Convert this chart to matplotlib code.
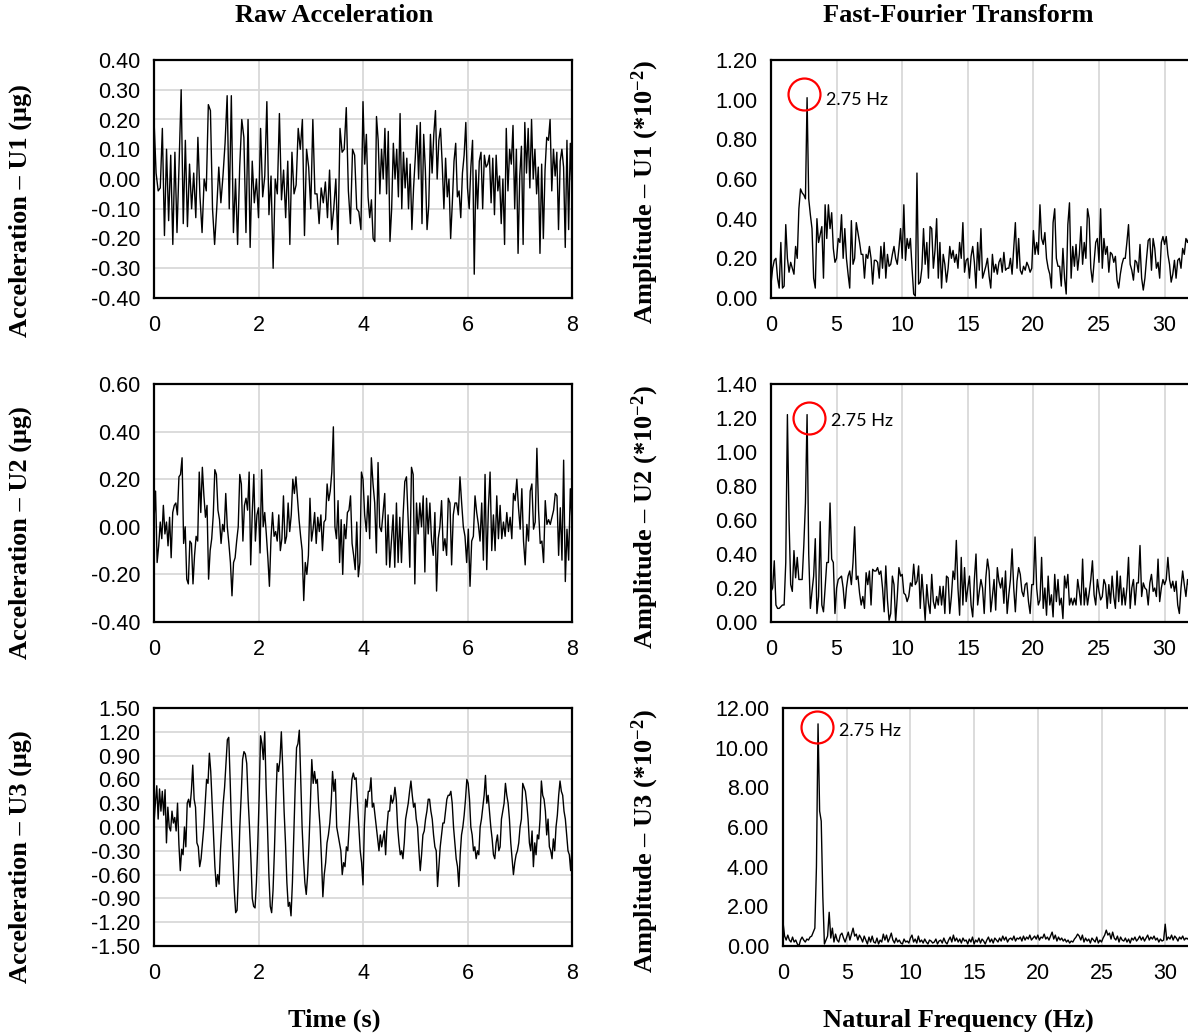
import numpy as np
import matplotlib
matplotlib.use("Agg")
import matplotlib.pyplot as plt
from matplotlib.ticker import FuncFormatter, MultipleLocator, FixedLocator

# ---------------- data ----------------
# Raw acceleration, U1 (first half 0-4 s, second half 4-8 s)
acc_u1_a = [0.20, 0.02, -0.04, -0.03, 0.17, -0.19, 0.10, -0.14, 0.08, -0.22, 0.09, -0.18, 0.05, 0.30,
            -0.15, 0.13, -0.16, 0.05, -0.10, 0.02, -0.13, 0.14, -0.06, -0.18, 0.00, -0.04, 0.25, 0.23,
            -0.10, -0.22, -0.10, 0.04, -0.08, 0.01, 0.12, 0.28, -0.10, 0.28, -0.18, 0.00, -0.22, 0.04,
            0.20, 0.14, -0.18, 0.20, -0.23, 0.06, -0.08, 0.00, -0.13, 0.17, -0.06, 0.01, 0.26, -0.12,
            0.01, -0.30, 0.00, -0.05, 0.22, -0.07, 0.03, -0.13, 0.06, -0.22, 0.09, -0.05, -0.02, 0.17,
            0.10, 0.20, -0.19, 0.10, 0.04, -0.10, 0.20, -0.05, -0.05, -0.15, -0.03, -0.08, -0.01, -0.13,
            0.03, -0.17, -0.10, 0.00, -0.22, 0.17, 0.09, 0.10, 0.24, -0.04, -0.15, 0.10, 0.08, -0.10,
            -0.11, -0.17, 0.26]
acc_u1_b = [0.05, 0.15, -0.06, -0.13, -0.07, -0.20, -0.21, 0.21, 0.13, -0.05, 0.10, 0.00, 0.17, -0.05,
            0.16, -0.21, -0.10, 0.12, 0.00, 0.10, -0.06, 0.22, -0.10, 0.09, -0.03, 0.07, -0.10, 0.05,
            -0.17, -0.03, 0.07, 0.18, 0.00, 0.19, -0.15, 0.15, 0.03, -0.17, -0.09, 0.15, 0.02, 0.15,
            0.23, 0.00, 0.13, 0.17, 0.05, -0.10, 0.07, -0.06, 0.00, -0.20, -0.08, 0.06, 0.12, -0.06,
            -0.04, -0.13, 0.02, 0.08, 0.19, -0.03, -0.10, 0.04, 0.13, -0.32, 0.03, -0.10, 0.06, 0.09,
            -0.10, 0.08, 0.04, 0.05, 0.08, -0.08, 0.07, -0.12, 0.08, -0.04, 0.01, -0.15, 0.00, -0.22,
            0.17, -0.04, 0.10, 0.05, 0.18, -0.10, 0.10, -0.25, 0.01, 0.11, -0.22, 0.19, 0.02, 0.17,
            -0.03, 0.20, 0.00, 0.10, -0.05, 0.04, -0.25, 0.05, -0.20, 0.03, 0.14, 0.13, 0.20, -0.04,
            0.10, 0.01, 0.09, -0.17, 0.06, 0.10, 0.04, -0.23, 0.13, -0.17, 0.12, -0.04]

# Raw acceleration, U2
acc_u2_a = [0.03, 0.15, -0.15, -0.08, 0.02, -0.05, 0.09, -0.03, 0.02, -0.08, 0.04, -0.13, 0.06, 0.09,
            0.10, 0.05, 0.21, 0.22, 0.29, -0.07, 0.00, -0.22, -0.24, -0.06, -0.07, -0.24, -0.12, -0.04,
            -0.06, 0.23, 0.06, 0.25, 0.13, 0.04, 0.09, -0.22, -0.10, -0.05, 0.05, 0.24, 0.22, 0.07,
            0.03, -0.07, 0.01, -0.02, 0.14, 0.00, -0.07, -0.15, -0.29, -0.15, -0.13, -0.06, 0.00, 0.22,
            0.18, -0.06, 0.09, 0.12, 0.07, 0.23, -0.16, 0.06, 0.22, -0.06, 0.05, 0.08, -0.11, 0.24,
            0.00, 0.06, -0.03, -0.13, -0.25, -0.05, 0.06, -0.04, -0.02, -0.06, 0.05, -0.10, -0.05, 0.13,
            -0.07, -0.04, 0.10, -0.02, 0.05, 0.20, 0.14, 0.21, 0.12, 0.03, -0.04, -0.10, -0.31, -0.15,
            -0.20, -0.12, 0.12, -0.06, -0.01, 0.06, -0.07, 0.04, -0.02, 0.05, -0.10, 0.02, 0.03, 0.18,
            0.11, 0.15, 0.23, 0.42, 0.00, -0.05, 0.11, -0.15, 0.03, -0.20, 0.01, -0.05, 0.06, 0.07,
            0.13, -0.07, -0.12, -0.18, 0.02, -0.21, -0.15, 0.23, 0.20]
acc_u2_b = [0.05, -0.02, 0.13, -0.05, 0.29, 0.18, 0.10, -0.11, 0.27, 0.00, -0.02, 0.06, 0.14, -0.16,
            0.05, -0.17, -0.06, 0.05, -0.17, 0.10, -0.15, 0.04, -0.15, 0.05, 0.19, 0.21, 0.03, -0.17,
            0.25, 0.22, -0.24, 0.10, -0.03, 0.10, 0.00, 0.13, -0.19, 0.12, -0.03, 0.10, -0.06, -0.12,
            0.06, -0.27, -0.05, 0.00, 0.11, -0.10, -0.05, -0.12, 0.12, 0.10, -0.16, 0.05, 0.10, 0.10,
            0.05, 0.21, 0.10, 0.00, -0.04, -0.15, -0.01, -0.25, -0.06, -0.04, 0.13, 0.06, 0.01, -0.06,
            0.10, -0.14, 0.22, -0.18, 0.08, 0.23, -0.10, 0.05, -0.10, 0.13, -0.05, 0.09, -0.05, 0.02,
            -0.04, 0.06, -0.02, 0.04, -0.05, 0.14, 0.11, 0.20, 0.08, -0.01, 0.16, -0.06, -0.16, 0.01,
            -0.06, 0.15, 0.18, -0.01, 0.02, 0.33, 0.07, -0.07, -0.06, -0.15, 0.11, 0.01, 0.03, 0.01,
            0.04, 0.07, 0.14, 0.13, -0.12, 0.08, -0.14, 0.28, -0.23, -0.01, -0.14, 0.16, 0.02]

# Raw acceleration, U3
acc_u3_a = [0.05, 0.30, 0.52, 0.10, 0.48, 0.20, 0.45, 0.15, 0.47, -0.20, 0.25, 0.00, -0.05, 0.20,
            0.05, 0.12, -0.05, 0.30, -0.22, -0.55, -0.28, -0.35, 0.00, -0.25, 0.30, 0.35, 0.25, 0.45,
            0.78, 0.35, 0.25, -0.20, -0.25, -0.50, -0.40, -0.20, 0.00, 0.30, 0.60, 0.55, 0.93, 0.70,
            0.30, -0.10, -0.50, -0.75, -0.60, -0.72, -0.30, 0.00, 0.30, 0.50, 0.80, 1.10, 1.13, 0.60,
            0.00, -0.40, -0.80, -1.08, -1.05, -0.60, 0.00, 0.40, 0.85, 0.95, 0.92, 0.80, 0.35, 0.00,
            -0.40, -0.90, -1.00, -1.02, -0.70, -0.20, 0.40, 1.15, 1.05, 0.85, 1.20, 0.50, 0.00, -0.60,
            -1.00, -1.08, -0.80, -0.30, 0.30, 0.80, 0.70, 0.85, 1.20, 0.75, 0.20, -0.20, -0.70, -1.00,
            -0.95, -1.12, -0.70, -0.10, 0.50, 1.00, 1.05, 1.22, 0.60, 0.00, -0.40, -0.70, -0.85, -0.60,
            -0.20, 0.30, 0.85, 0.55, 0.70, 0.55, 0.60, 0.25, 0.00, -0.40, -0.88, -0.60, -0.45, -0.20,
            -0.10, 0.05, 0.30, 0.70, 0.45, 0.60, 0.00, -0.10, -0.20, -0.30, -0.60, -0.45, -0.50, -0.25,
            -0.30, 0.00, 0.30, 0.60, 0.68, 0.60, 0.62, 0.30, 0.00, -0.30, -0.45, -0.73]
acc_u3_b = [0.00, 0.35, 0.25, 0.45, 0.45, 0.62, 0.25, 0.30, 0.15, 0.00, -0.15, -0.30, -0.10, -0.25,
            -0.15, -0.05, -0.35, 0.00, 0.20, 0.20, 0.40, 0.30, 0.35, 0.50, 0.35, 0.00, -0.20, -0.35,
            -0.30, -0.40, -0.20, 0.10, 0.20, 0.30, 0.45, 0.58, 0.40, 0.25, 0.30, 0.10, 0.00, -0.30,
            -0.55, -0.35, -0.10, -0.05, 0.10, 0.20, 0.35, 0.35, 0.20, 0.10, -0.10, -0.25, -0.30, -0.75,
            -0.50, -0.25, -0.10, 0.05, 0.05, 0.20, 0.35, 0.40, 0.40, 0.45, 0.30, 0.00, -0.20, -0.40,
            -0.50, -0.75, -0.35, -0.10, 0.00, 0.15, 0.35, 0.60, 0.55, 0.35, 0.00, -0.10, -0.30, -0.25,
            -0.40, -0.30, -0.35, 0.00, 0.10, 0.25, 0.40, 0.65, 0.30, 0.40, 0.20, 0.00, -0.15, -0.35,
            -0.40, -0.20, -0.10, -0.30, -0.25, 0.10, 0.20, 0.30, 0.55, 0.40, 0.30, 0.10, -0.20, -0.40,
            -0.60, -0.45, -0.35, -0.30, -0.20, 0.00, 0.10, 0.55, 0.50, 0.45, 0.30, 0.10, -0.20, -0.30,
            -0.05, -0.50, -0.20, -0.35, -0.10, -0.15, 0.10, 0.58, 0.40, 0.35, 0.20, -0.10, 0.10, -0.25,
            -0.30, -0.40, -0.15, -0.30, 0.00, 0.15, 0.40, 0.58, 0.45, 0.40, 0.20, 0.10, -0.10, -0.30,
            -0.35, -0.55, -0.25]

# FFT amplitudes (*10^-2), one row per 1 Hz, resolution 0.125 Hz (8 s record)
FREQ_RESOLUTION = 0.125
fft_u1 = [
    0.07, 0.15, 0.19, 0.20, 0.10, 0.05, 0.28, 0.05,
    0.06, 0.37, 0.20, 0.13, 0.18, 0.15, 0.12, 0.26,
    0.20, 0.45, 0.55, 0.53, 0.52, 0.50, 1.01, 0.50,
    0.42, 0.35, 0.10, 0.05, 0.40, 0.28, 0.32, 0.36,
    0.10, 0.47, 0.30, 0.47, 0.35, 0.43, 0.25, 0.18,
    0.20, 0.30, 0.28, 0.42, 0.20, 0.35, 0.20, 0.12,
    0.05, 0.39, 0.17, 0.20, 0.38, 0.33, 0.28, 0.22,
    0.22, 0.10, 0.22, 0.20, 0.26, 0.20, 0.07, 0.19,
    0.19, 0.18, 0.10, 0.26, 0.15, 0.28, 0.10, 0.22,
    0.16, 0.17, 0.22, 0.26, 0.20, 0.17, 0.25, 0.35,
    0.20, 0.47, 0.19, 0.30, 0.25, 0.30, 0.15, 0.02,
    0.01, 0.63, 0.07, 0.08, 0.15, 0.35, 0.17, 0.28,
    0.10, 0.36, 0.35, 0.15, 0.24, 0.40, 0.10, 0.28,
    0.05, 0.22, 0.17, 0.08, 0.15, 0.26, 0.20, 0.24,
    0.18, 0.22, 0.15, 0.28, 0.20, 0.38, 0.13, 0.19,
    0.20, 0.10, 0.21, 0.26, 0.18, 0.05, 0.28, 0.14,
    0.35, 0.10, 0.13, 0.16, 0.20, 0.11, 0.05, 0.22,
    0.13, 0.17, 0.12, 0.18, 0.20, 0.13, 0.23, 0.14,
    0.15, 0.15, 0.20, 0.12, 0.25, 0.38, 0.15, 0.30,
    0.14, 0.12, 0.16, 0.14, 0.18, 0.16, 0.13, 0.15,
    0.34, 0.22, 0.28, 0.22, 0.47, 0.30, 0.27, 0.33,
    0.20, 0.15, 0.12, 0.05, 0.38, 0.45, 0.20, 0.16,
    0.16, 0.06, 0.25, 0.10, 0.02, 0.37, 0.48, 0.10,
    0.26, 0.16, 0.27, 0.14, 0.22, 0.36, 0.17, 0.28,
    0.20, 0.45, 0.40, 0.15, 0.08, 0.18, 0.28, 0.30,
    0.18, 0.45, 0.15, 0.30, 0.22, 0.26, 0.13, 0.23,
    0.22, 0.18, 0.21, 0.09, 0.05, 0.12, 0.17, 0.20,
    0.20, 0.28, 0.37, 0.17, 0.14, 0.09, 0.19, 0.18,
    0.13, 0.27, 0.10, 0.04, 0.10, 0.20, 0.29, 0.30,
    0.14, 0.30, 0.25, 0.15, 0.18, 0.10, 0.28, 0.31,
    0.27, 0.31, 0.22, 0.17, 0.08, 0.12, 0.19, 0.10,
    0.19, 0.20, 0.15, 0.25, 0.22, 0.30, 0.28, 0.31,
]
fft_u2 = [
    0.18, 0.20, 0.36, 0.10, 0.08, 0.08, 0.09, 0.10,
    0.10, 0.35, 1.22, 0.60, 0.22, 0.18, 0.42, 0.26,
    0.38, 0.25, 0.25, 0.25, 0.45, 0.70, 1.22, 0.40,
    0.08, 0.18, 0.27, 0.49, 0.05, 0.15, 0.59, 0.10,
    0.06, 0.20, 0.35, 0.35, 0.70, 0.37, 0.35, 0.05,
    0.20, 0.25, 0.26, 0.27, 0.20, 0.08, 0.20, 0.27,
    0.30, 0.22, 0.35, 0.56, 0.25, 0.27, 0.17, 0.10,
    0.15, 0.08, 0.29, 0.22, 0.30, 0.10, 0.31, 0.30,
    0.30, 0.32, 0.28, 0.30, 0.20, 0.06, 0.33, 0.13,
    0.01, 0.05, 0.27, 0.22, 0.00, 0.15, 0.32, 0.27,
    0.28, 0.17, 0.16, 0.12, 0.15, 0.23, 0.21, 0.34,
    0.22, 0.24, 0.33, 0.08, 0.28, 0.15, 0.01, 0.22,
    0.11, 0.05, 0.28, 0.12, 0.08, 0.15, 0.10, 0.21,
    0.10, 0.21, 0.05, 0.27, 0.26, 0.05, 0.15, 0.30,
    0.25, 0.48, 0.20, 0.04, 0.38, 0.10, 0.32, 0.12,
    0.20, 0.27, 0.10, 0.03, 0.25, 0.40, 0.10, 0.18,
    0.25, 0.20, 0.05, 0.26, 0.37, 0.30, 0.06, 0.15,
    0.25, 0.07, 0.32, 0.24, 0.20, 0.26, 0.11, 0.30,
    0.05, 0.16, 0.25, 0.43, 0.20, 0.06, 0.24, 0.32,
    0.28, 0.18, 0.15, 0.22, 0.23, 0.12, 0.05, 0.22,
    0.22, 0.50, 0.20, 0.10, 0.13, 0.38, 0.08, 0.20,
    0.04, 0.27, 0.10, 0.16, 0.03, 0.28, 0.12, 0.25,
    0.10, 0.14, 0.02, 0.27, 0.20, 0.28, 0.10, 0.14,
    0.10, 0.14, 0.10, 0.25, 0.18, 0.10, 0.37, 0.10,
    0.20, 0.10, 0.17, 0.25, 0.36, 0.16, 0.10, 0.25,
    0.18, 0.13, 0.15, 0.25, 0.22, 0.08, 0.22, 0.11,
    0.27, 0.15, 0.08, 0.30, 0.12, 0.27, 0.10, 0.20,
    0.10, 0.20, 0.38, 0.08, 0.20, 0.25, 0.10, 0.23,
    0.23, 0.45, 0.15, 0.23, 0.20, 0.19, 0.10, 0.23,
    0.28, 0.18, 0.20, 0.15, 0.37, 0.12, 0.20, 0.25,
    0.22, 0.25, 0.38, 0.25, 0.20, 0.24, 0.18, 0.24,
    0.10, 0.05, 0.20, 0.30, 0.22, 0.15, 0.25, 0.20,
]
fft_u3 = [
    1.20, 0.50, 0.30, 0.55, 0.30, 0.20, 0.45, 0.20,
    0.30, 0.10, 0.00, 0.30, 0.45, 0.30, 0.20, 0.35,
    0.30, 0.45, 0.50, 0.70, 0.90, 4.00, 11.20, 6.80,
    6.30, 2.50, 0.10, 0.30, 0.50, 1.70, 0.40, 0.90,
    0.20, 0.60, 0.30, 0.20, 0.55, 0.65, 0.40, 0.20,
    0.45, 0.70, 0.30, 0.60, 0.90, 0.50, 0.60, 0.30,
    0.55, 0.40, 0.20, 0.50, 0.30, 0.10, 0.45, 0.20,
    0.50, 0.20, 0.15, 0.40, 0.10, 0.30, 0.20, 0.60,
    0.30, 0.55, 0.20, 0.40, 0.65, 0.30, 0.15, 0.40,
    0.20, 0.30, 0.15, 0.10, 0.35, 0.20, 0.25, 0.15,
    0.40, 0.55, 0.20, 0.35, 0.15, 0.50, 0.20, 0.30,
    0.15, 0.35, 0.20, 0.10, 0.30, 0.25, 0.15, 0.20,
    0.35, 0.10, 0.25, 0.30, 0.15, 0.40, 0.20, 0.10,
    0.30, 0.45, 0.20, 0.55, 0.25, 0.40, 0.20, 0.35,
    0.15, 0.40, 0.25, 0.30, 0.10, 0.35, 0.20, 0.45,
    0.10, 0.30, 0.20, 0.40, 0.15, 0.35, 0.25, 0.10,
    0.30, 0.45, 0.20, 0.35, 0.15, 0.40, 0.30, 0.20,
    0.40, 0.25, 0.50, 0.30, 0.45, 0.20, 0.35, 0.40,
    0.30, 0.50, 0.25, 0.40, 0.35, 0.45, 0.25, 0.50,
    0.30, 0.45, 0.35, 0.55, 0.30, 0.40, 0.50, 0.35,
    0.55, 0.30, 0.45, 0.40, 0.60, 0.35, 0.45, 0.30,
    0.50, 0.70, 0.35, 0.55, 0.25, 0.45, 0.30, 0.40,
    0.25, 0.35, 0.20, 0.30, 0.15, 0.25, 0.20, 0.35,
    0.45, 0.60, 0.50, 0.30, 0.55, 0.20, 0.40, 0.25,
    0.35, 0.15, 0.40, 0.30, 0.20, 0.45, 0.15, 0.30,
    0.20, 0.40, 0.55, 0.80, 0.55, 0.65, 0.35, 0.70,
    0.40, 0.30, 0.50, 0.20, 0.45, 0.30, 0.25, 0.40,
    0.20, 0.35, 0.15, 0.40, 0.30, 0.45, 0.25, 0.35,
    0.50, 0.30, 0.45, 0.25, 0.40, 0.55, 0.30, 0.45,
    0.35, 0.50, 0.30, 0.40, 0.20, 0.35, 0.25, 0.30,
    1.10, 0.30, 0.45, 0.35, 0.55, 0.30, 0.50, 0.40,
    0.25, 0.45, 0.35, 0.50, 0.30, 0.40, 0.35, 0.45,
]

units = ["U1", "U2", "U3"]
peak_label = "2.75 Hz"
acc_ylims = [(-0.40, 0.40, 0.10), (-0.40, 0.60, 0.20), (-1.50, 1.50, 0.30)]
fft_ylims = [(0.0, 1.20, 0.20), (0.0, 1.40, 0.20), (0.0, 12.0, 2.0)]
time_ticks = [0, 2, 4, 6, 8]
freq_ticks = [0, 5, 10, 15, 20, 25, 30]

# ---------------- styling ----------------
plt.rcParams['mathtext.fontset'] = 'custom'
plt.rcParams['mathtext.rm'] = 'Liberation Serif:bold'
plt.rcParams['mathtext.it'] = 'Liberation Serif:bold:italic'
plt.rcParams['mathtext.bf'] = 'Liberation Serif:bold'

W, H = 1188, 1035
fig = plt.figure(figsize=(W / 100, H / 100), dpi=100)

def fx(p):
    return p / W

def fy(p):
    return 1 - p / H

GRID = '#d9d9d9'
TICKFONT = 'Liberation Sans'
TICKSIZE = 15.5
LABELFONT = dict(family='Liberation Serif', weight='bold', size=19)

def fmt2(v, pos):
    return f"{(round(v, 6) + 0.0):.2f}"

def make_ax(left, top, right, bottom):
    return fig.add_axes([fx(left), fy(bottom), fx(right - left), (bottom - top) / H])

def style(ax, ylo, yhi, ystep, xmax, xticks, hgrid):
    ax.set_ylim(ylo, yhi)
    ax.set_xlim(0, xmax)
    ax.yaxis.set_major_locator(MultipleLocator(ystep))
    ax.xaxis.set_major_locator(FixedLocator(xticks))
    ax.yaxis.set_major_formatter(FuncFormatter(fmt2))
    ax.xaxis.set_major_formatter(FuncFormatter(lambda v, p: f"{int(round(v))}"))
    ax.tick_params(length=0, labelsize=TICKSIZE, colors='black', pad=10)
    ax.tick_params(axis='x', pad=12)
    for lab in ax.get_xticklabels() + ax.get_yticklabels():
        lab.set_family(TICKFONT)
    ax.grid(True, axis='x', color=GRID, lw=1.3)
    if hgrid:
        ax.grid(True, axis='y', color=GRID, lw=1.3)
    ax.set_axisbelow(True)
    for s in ax.spines.values():
        s.set_linewidth(1.6)
        s.set_color('black')

acc_sets = [(acc_u1_a, acc_u1_b), (acc_u2_a, acc_u2_b), (acc_u3_a, acc_u3_b)]
fft_sets = [fft_u1, fft_u2, fft_u3]

row_tops = [60, 384, 708]
row_bots = [298, 622, 946]
fft_left = [771, 771, 783]
fft_px_per_hz = [13.12, 13.12, 12.74]
left_label_y = [211, 533, 857]
right_label_y = [192, 517, 841]
circle_y = [1.03, 1.20, 11.04]
circle_x = [2.55, 2.9, 2.66]
text_x = [4.2, 4.6, 4.37]
text_y = [1.00, 1.18, 10.82]

for i in range(3):
    # ---- raw acceleration ----
    a, b = acc_sets[i]
    t_a = np.linspace(0, 4, len(a))
    t_b = np.linspace(4, 8, len(b) + 1)[1:]
    t = np.concatenate([t_a, t_b])
    y = np.concatenate([a, b])
    ax = make_ax(154, row_tops[i], 572, row_bots[i])
    ax.plot(t, y, color='black', lw=1.0)
    lo, hi, st = acc_ylims[i]
    style(ax, lo, hi, st, 8, time_ticks, True)
    fig.text(fx(20), fy(left_label_y[i]), f"Acceleration – {units[i]} (μg)",
             rotation=90, ha='center', va='center', **LABELFONT)

    # ---- FFT ----
    amp = np.array(fft_sets[i])
    f = np.arange(len(amp)) * FREQ_RESOLUTION
    xmax = 35
    axf = make_ax(fft_left[i], row_tops[i], fft_left[i] + xmax * fft_px_per_hz[i], row_bots[i])
    axf.plot(f, amp, color='black', lw=1.0)
    lo, hi, st = fft_ylims[i]
    style(axf, lo, hi, st, xmax, freq_ticks, False)
    axf.spines['right'].set_visible(False)
    axf.plot([circle_x[i]], [circle_y[i]], marker='o', ms=23, mfc='none', mec='#ff0000', mew=1.6,
             clip_on=False, zorder=5)
    axf.text(text_x[i], text_y[i], peak_label, family='Lato', size=13, ha='left', va='center')
    fig.text(fx(645), fy(right_label_y[i]), f"Amplitude – {units[i]} (*10$^{{-2}}$)",
             rotation=90, ha='center', va='center', **LABELFONT)

fig.text(fx(334), fy(16), "Raw Acceleration", ha='center', va='center', **LABELFONT)
fig.text(fx(958), fy(16), "Fast-Fourier Transform", ha='center', va='center', **LABELFONT)
fig.text(fx(334), fy(1020), "Time (s)", ha='center', va='center', **LABELFONT)
fig.text(fx(958), fy(1020), "Natural Frequency (Hz)", ha='center', va='center', **LABELFONT)

fig.savefig("out.png", dpi=100)
